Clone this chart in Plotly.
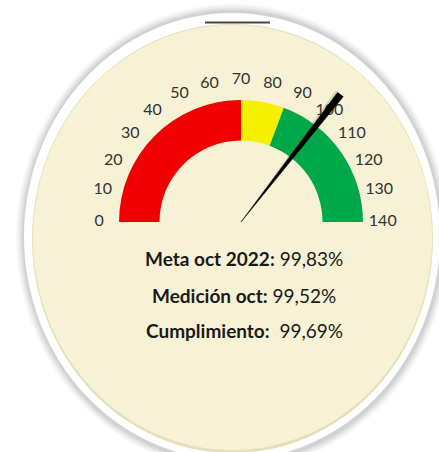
import plotly.graph_objects as go

# %% datos del indicador
escala_max = 140
ticks = list(range(0, 141, 10))
bandas_inicio = [0, 70, 86]
bandas_fin = [70, 86, 140]
bandas_color = ["#F00000", "#F5F000", "#00A84A"]
medicion = 99.52

textos = ["Meta oct 2022:", "Medición oct:", "Cumplimiento:"]
valores = [99.83, 99.52, 99.69]

W, H = 439, 452


def grados(v):
    return v * 180.0 / escala_max


def px(x):
    return x / W


def py(y):
    return 1 - y / H


fig = go.Figure()

# --- bandas de color del velocímetro ---
for ini, fin, col in zip(bandas_inicio, bandas_fin, bandas_color):
    fig.add_trace(go.Barpolar(
        r=[0.25], base=[0.503], theta=[grados((ini + fin) / 2)],
        width=[grados(fin - ini)], marker=dict(color=col, line=dict(width=0)),
        hoverinfo="skip", showlegend=False))

# --- etiquetas de la escala ---
fig.add_trace(go.Scatterpolar(
    r=[0.875] * len(ticks), theta=[grados(t) for t in ticks],
    text=[str(t) for t in ticks], mode="text", cliponaxis=False,
    textfont=dict(family="Lato", size=16, color="#333333"),
    hoverinfo="skip", showlegend=False))

# --- aguja (sombra + aguja) ---
a = grados(medicion)
fig.add_trace(go.Scatterpolar(
    r=[0.02, 1.0, 1.0, 0.02], theta=[a - 3, a - 2.2, a - 0.4, a - 3],
    fill="toself", fillcolor="rgba(120,90,40,0.22)", mode="lines",
    line=dict(width=0), hoverinfo="skip", showlegend=False))
fig.add_trace(go.Scatterpolar(
    r=[0.0, 1.0, 1.0, 0.0], theta=[a, a - 1.25, a + 1.25, a],
    fill="toself", fillcolor="#000000", mode="lines",
    line=dict(width=0.5, color="#000000"), hoverinfo="skip", showlegend=False))

# --- disco de fondo ---
formas = []
for i, op in enumerate([0.03, 0.04, 0.05, 0.06]):
    d = 8 - 2 * i
    formas.append(dict(type="circle", xref="paper", yref="paper", layer="below",
                       x0=px(24 - d), x1=px(441 + d), y0=py(12 - d), y1=py(462 + d),
                       fillcolor=f"rgba(0,0,0,{op})", line=dict(width=0)))
formas.append(dict(type="circle", xref="paper", yref="paper", layer="below",
                   x0=px(24), x1=px(440), y0=py(13), y1=py(460),
                   fillcolor="#FFFFFF", line=dict(width=0)))
formas.append(dict(type="circle", xref="paper", yref="paper", layer="below",
                   x0=px(32), x1=px(433), y0=py(24), y1=py(453),
                   fillcolor="#E6DFBA", line=dict(width=0)))
formas.append(dict(type="circle", xref="paper", yref="paper", layer="below",
                   x0=px(33), x1=px(432), y0=py(25), y1=py(450),
                   fillcolor="#F7F2D6", line=dict(width=0)))
formas.append(dict(type="line", xref="paper", yref="paper", layer="below",
                   x0=px(205), x1=px(270), y0=py(22.5), y1=py(22.5),
                   line=dict(color="#4a4a40", width=2)))

# --- textos de resumen ---
anotaciones = []
ys = [258, 295, 330]
for txt, val, y in zip(textos, valores, ys):
    sep = "\u00a0 " if txt.startswith("Cumpl") else " "
    etiqueta = f"<b>{txt}</b>{sep}{val:.2f}%".replace(".", ",")
    anotaciones.append(dict(text=etiqueta, x=px(244), y=py(y), xref="paper", yref="paper",
                            showarrow=False, xanchor="center", yanchor="middle",
                            font=dict(family="Lato", size=19, color="#1a1a1a")))

fig.update_layout(
    width=W, height=H, margin=dict(l=0, r=0, t=0, b=0),
    paper_bgcolor="#FFFFFF", plot_bgcolor="rgba(0,0,0,0)",
    shapes=formas, annotations=anotaciones, showlegend=False,
    polar=dict(
        domain=dict(x=[px(241 - 162), px(241 + 162)], y=[py(222), py(222 - 162)]),
        sector=[0, 180], bgcolor="rgba(0,0,0,0)", hole=0,
        radialaxis=dict(range=[0, 1], visible=False, showgrid=False),
        angularaxis=dict(rotation=180, direction="clockwise",
                         visible=False, showgrid=False, thetaunit="degrees"),
        barmode="overlay"),
)

# quitar el margen por defecto del body para que la figura ocupe toda la ventana
fig.write_html("out.html", config={"displayModeBar": False},
               post_script="document.body.style.margin='0';document.body.style.overflow='hidden';")
